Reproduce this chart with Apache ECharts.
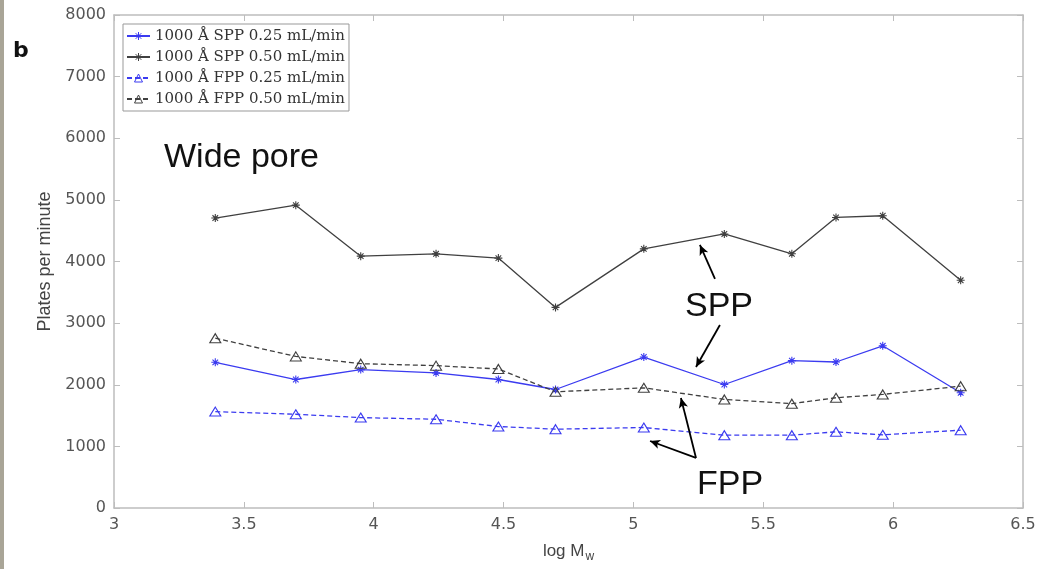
<!DOCTYPE html>
<html>
<head>
<meta charset="utf-8">
<script src="https://cdn.jsdelivr.net/npm/echarts@6/dist/echarts.min.js"></script>
<style>
html,body{margin:0;padding:0;background:#fff;}
#strip{position:absolute;left:0;top:0;width:4px;height:569px;background:#a9a597;z-index:5;}
#chart{width:1048px;height:569px;}
</style>
</head>
<body>
<div id="strip"></div>
<div id="chart"></div>
<script>
// ---- data ----
const logMw = [3.39, 3.70, 3.95, 4.24, 4.48, 4.70, 5.04, 5.35, 5.61, 5.78, 5.96, 6.26];
const spp025 = [2364, 2085, 2246, 2192, 2085, 1923, 2450, 2004, 2391, 2369, 2632, 1870];
const spp050 = [4705, 4914, 4087, 4125, 4055, 3255, 4205, 4447, 4125, 4715, 4742, 3695];
const fpp025 = [1564, 1521, 1467, 1440, 1322, 1279, 1306, 1182, 1182, 1236, 1188, 1263];
const fpp050 = [2756, 2460, 2342, 2310, 2256, 1886, 1950, 1762, 1693, 1789, 1843, 1977];
const seriesNames = [
  '1000 Å SPP 0.25 mL/min',
  '1000 Å SPP 0.50 mL/min',
  '1000 Å FPP 0.25 mL/min',
  '1000 Å FPP 0.50 mL/min'
];
const xTicks = { min: 3, max: 6.5, step: 0.5 };
const yTicks = { min: 0, max: 8000, step: 1000 };
// arrow annotations in data units: [tailX, tailY, headX, headY]
const arrows = [
  [5.314, 3717, 5.256, 4268],
  [5.333, 2970, 5.241, 2288],
  [5.241, 812, 5.183, 1785],
  [5.241, 812, 5.064, 1087]
];

const pair = ys => logMw.map((x, i) => [x, ys[i]]);
const STAR = 'path://M0,-10L0,10M-10,0L10,0M-7,-7L7,7M-7,7L7,-7';
const TRI = 'path://M0,-10L8.66,5L-8.66,5Z';
const BLUE = '#3b3bf0';
const BLACK = '#404040';
const AXIS = '#bdbdbd';
const LBL = '#555555';

const chart = echarts.init(document.getElementById('chart'), null, { renderer: 'canvas' });

function mkSeries(name, ys, color, symbol, dashed, size, hollow) {
  return {
    name: name,
    type: 'line',
    data: pair(ys),
    symbol: symbol,
    symbolSize: size,
    showSymbol: true,
    animation: false,
    lineStyle: { color: color, width: 1.3, type: dashed ? [5, 3] : 'solid' },
    itemStyle: { color: hollow ? 'rgba(255,255,255,0)' : color, borderColor: color, borderWidth: 1.1 },
    z: 3
  };
}

const series = [
  mkSeries(seriesNames[0], spp025, BLUE, STAR, false, 8, false),
  mkSeries(seriesNames[1], spp050, BLACK, STAR, false, 8, false),
  mkSeries(seriesNames[2], fpp025, BLUE, TRI, true, [11, 9], true),
  mkSeries(seriesNames[3], fpp050, BLACK, TRI, true, [11, 9], true)
];
series[1].markLine = {
  silent: true,
  animation: false,
  symbol: ['none', 'arrow'],
  symbolSize: [7, 10],
  lineStyle: { color: '#000', width: 1.8, type: 'solid' },
  label: { show: false },
  data: arrows.map(a => [{ coord: [a[0], a[1]] }, { coord: [a[2], a[3]] }])
};

const option = {
  backgroundColor: '#ffffff',
  animation: false,
  grid: { left: 114, right: 25, top: 15, bottom: 61, containLabel: false },
  legend: {
    orient: 'vertical',
    left: 123,
    top: 24,
    data: seriesNames,
    backgroundColor: '#ffffff',
    borderColor: '#999999',
    borderWidth: 1,
    borderRadius: 0,
    padding: [3, 4, 3, 3],
    itemGap: 3,
    itemWidth: 23,
    itemHeight: 10,
    itemStyle: { borderWidth: 1 },
    textStyle: { fontFamily: 'DejaVu Serif', fontSize: 15, color: '#333', lineHeight: 18 },
    selectedMode: false
  },
  xAxis: [
    {
      type: 'value', position: 'bottom',
      min: xTicks.min, max: xTicks.max, interval: xTicks.step,
      axisLine: { show: true, onZero: false, lineStyle: { color: AXIS, width: 1.5 } },
      axisTick: { show: true, inside: true, length: 6, lineStyle: { color: AXIS } },
      splitLine: { show: false },
      axisLabel: { color: LBL, fontFamily: 'DejaVu Sans', fontSize: 16, margin: 9 },
      name: '{a|log M}{s|w}',
      nameLocation: 'middle',
      nameGap: 31,
      nameTextStyle: {
        rich: {
          a: { fontFamily: 'Liberation Sans', fontSize: 17, color: '#444' },
          s: { fontFamily: 'Liberation Sans', fontSize: 12, color: '#444', padding: [12, 0, 0, 1] }
        }
      }
    },
    {
      type: 'value', position: 'top',
      min: xTicks.min, max: xTicks.max, interval: xTicks.step,
      axisLine: { show: true, onZero: false, lineStyle: { color: AXIS, width: 1.5 } },
      axisTick: { show: true, inside: true, length: 6, lineStyle: { color: AXIS } },
      splitLine: { show: false },
      axisLabel: { show: false }
    }
  ],
  yAxis: [
    {
      type: 'value', position: 'left',
      min: yTicks.min, max: yTicks.max, interval: yTicks.step,
      axisLine: { show: true, onZero: false, lineStyle: { color: AXIS, width: 1.5 } },
      axisTick: { show: true, inside: true, length: 6, lineStyle: { color: AXIS } },
      splitLine: { show: false },
      axisLabel: { color: LBL, fontFamily: 'DejaVu Sans', fontSize: 16, margin: 8, formatter: v => String(v) },
      name: 'Plates per minute',
      nameLocation: 'middle',
      nameGap: 56,
      nameTextStyle: { fontFamily: 'Liberation Sans', fontSize: 18, color: '#444' }
    },
    {
      type: 'value', position: 'right',
      min: yTicks.min, max: yTicks.max, interval: yTicks.step,
      axisLine: { show: true, onZero: false, lineStyle: { color: AXIS, width: 1.5 } },
      axisTick: { show: true, inside: true, length: 6, lineStyle: { color: AXIS } },
      splitLine: { show: false },
      axisLabel: { show: false }
    }
  ],
  series: series,
  graphic: [
    { type: 'text', left: 13, top: 40, style: { text: 'b', font: 'bold 22px "DejaVu Sans"', fill: '#111' } },
    { type: 'text', x: 164, y: 158, style: { text: 'Wide pore', font: '34px "Liberation Sans"', fill: '#111', textAlign: 'left', textVerticalAlign: 'middle' } },
    { type: 'text', x: 719, y: 307, style: { text: 'SPP', font: '34px "Liberation Sans"', fill: '#111', textAlign: 'center', textVerticalAlign: 'middle' } },
    { type: 'text', x: 730, y: 485, style: { text: 'FPP', font: '34px "Liberation Sans"', fill: '#111', textAlign: 'center', textVerticalAlign: 'middle' } }
  ]
};
chart.setOption(option);
</script>
</body>
</html>
